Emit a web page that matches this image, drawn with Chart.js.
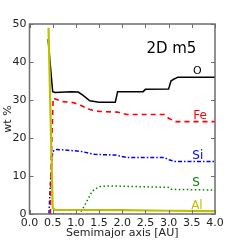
<!DOCTYPE html>
<html>
<head>
<meta charset="utf-8">
<script src="https://cdn.jsdelivr.net/npm/chart.js@4/dist/chart.umd.min.js"></script>
<style>
  html, body { margin: 0; padding: 0; background: #fff; }
  #wrap { width: 240px; height: 240px; }
</style>
</head>
<body>
<div id="wrap"><canvas id="myChart" width="240" height="240"></canvas></div>
<script>
// abundances vs semimajor axis
const oX = [0.40, 0.50, 0.55, 0.9, 1.05, 1.15, 1.3, 1.5, 1.85, 1.9, 2.45, 2.5, 3.0, 3.05, 3.1, 3.2, 4.0];
const oY = [46.0, 32.2, 32.0, 32.2, 32.1, 31.3, 29.8, 29.4, 29.4, 32.2, 32.2, 32.8, 32.9, 35.0, 35.4, 36.0, 36.0];

const feX = [0.45, 0.47, 0.51, 0.7, 0.95, 1.1, 1.3, 1.5, 1.9, 2.1, 2.9, 3.0, 3.15, 4.0];
const feY = [0, 15, 30.5, 29.6, 29.3, 28.6, 27.5, 27.0, 26.8, 26.2, 26.2, 25.2, 24.3, 24.3];

const siX = [0.42, 0.45, 0.5, 0.58, 1.1, 1.4, 1.85, 2.1, 2.9, 3.0, 3.15, 4.0];
const siY = [0, 8, 16.5, 17.0, 16.5, 15.7, 15.5, 14.9, 14.9, 14.3, 13.8, 13.8];

const sX = [0.45, 1.08, 1.2, 1.35, 1.5, 1.7, 3.0, 3.05, 4.0];
const sY = [0, 0, 2.5, 6.0, 7.2, 7.4, 7.0, 6.5, 6.3];

const alX = [0.41, 0.50, 0.55, 1.0, 2.0, 3.0, 4.0];
const alY = [49, 1.6, 1.1, 1.05, 1.0, 0.85, 0.75];

const xTicks = [0, 0.5, 1, 1.5, 2, 2.5, 3, 3.5, 4];
const yTicks = [0, 10, 20, 30, 40, 50];

// text labels next to the curves (data coords)
const labels = [
  { text: "2D m5", x: 3.06, y: 43.5, color: "#000", size: 15 },
  { text: "O", x: 3.62, y: 37.6, color: "#000", size: 11 },
  { text: "Fe", x: 3.68, y: 25.8, color: "#ff0000", size: 12 },
  { text: "Si", x: 3.63, y: 15.4, color: "#0000ff", size: 12 },
  { text: "S", x: 3.59, y: 8.1, color: "#008000", size: 12 },
  { text: "Al", x: 3.61, y: 2.2, color: "#bfbf00", size: 12 },
];

function pts(xs, ys) {
  return xs.map((x, i) => ({ x: x, y: ys[i] }));
}

const font = "'DejaVu Sans', sans-serif";
const axisColor = "#6e6e6e";

// inward ticks on all four sides + curve labels
const decor = {
  id: "decor",
  afterDraw(chart) {
    const c = chart.ctx;
    const a = chart.chartArea;
    const xs = chart.scales.x;
    const ys = chart.scales.y;
    c.save();
    c.strokeStyle = axisColor;
    c.lineWidth = 1;
    xTicks.forEach((v) => {
      const px = Math.round(xs.getPixelForValue(v)) + 0.5;
      c.beginPath();
      c.moveTo(px, a.bottom); c.lineTo(px, a.bottom - 4);
      c.moveTo(px, a.top); c.lineTo(px, a.top + 4);
      c.stroke();
    });
    yTicks.forEach((v) => {
      const py = Math.round(ys.getPixelForValue(v)) + 0.5;
      c.beginPath();
      c.moveTo(a.left, py); c.lineTo(a.left + 4, py);
      c.moveTo(a.right, py); c.lineTo(a.right - 4, py);
      c.stroke();
    });
    c.strokeStyle = axisColor;
    c.lineWidth = 1.5;
    c.strokeRect(a.left, a.top, a.right - a.left, a.bottom - a.top);
    c.textAlign = "center";
    c.textBaseline = "middle";
    labels.forEach((l) => {
      c.fillStyle = l.color;
      c.font = l.size + "px " + font;
      c.fillText(l.text, xs.getPixelForValue(l.x), ys.getPixelForValue(l.y));
    });
    c.restore();
  },
};

const ctx = document.getElementById("myChart").getContext("2d");

new Chart(ctx, {
  type: "scatter",
  data: {
    datasets: [
      {
        label: "Al",
        data: pts(alX, alY),
        showLine: true,
        borderColor: "#bfbf00",
        borderWidth: 2.2,
        pointRadius: 0,
        order: 0,
      },
      {
        label: "O",
        data: pts(oX, oY),
        showLine: true,
        borderColor: "#000",
        borderWidth: 1.5,
        pointRadius: 0,
        order: 1,
      },
      {
        label: "Fe",
        data: pts(feX, feY),
        showLine: true,
        borderColor: "#ff0000",
        borderWidth: 1.6,
        borderDash: [5, 4],
        pointRadius: 0,
        order: 2,
      },
      {
        label: "Si",
        data: pts(siX, siY),
        showLine: true,
        borderColor: "#0000ff",
        borderWidth: 1.5,
        borderDash: [4, 2, 1.5, 2],
        pointRadius: 0,
        order: 3,
      },
      {
        label: "S",
        data: pts(sX, sY),
        showLine: true,
        borderColor: "#008000",
        borderWidth: 1.5,
        borderDash: [1.5, 2.5],
        pointRadius: 0,
        order: 4,
      },
    ],
  },
  options: {
    responsive: false,
    animation: false,
    layout: { padding: { top: 24, right: 25, left: 0, bottom: 0 } },
    plugins: {
      legend: { display: false },
      tooltip: { enabled: false },
    },
    scales: {
      x: {
        type: "linear",
        min: 0,
        max: 4,
        afterBuildTicks: (s) => { s.ticks = xTicks.map((v) => ({ value: v })); },
        afterFit: (s) => { s.height = 26; },
        grid: { display: false, drawTicks: false },
        border: { display: false },
        ticks: {
          color: "#222",
          padding: 3,
          maxRotation: 0,
          font: { family: font, size: 11 },
          callback: (v) => v.toFixed(1),
        },
        title: {
          display: true,
          text: "Semimajor axis [AU]",
          color: "#222",
          padding: 0,
          font: { family: font, size: 11 },
        },
      },
      y: {
        type: "linear",
        min: 0,
        max: 50,
        afterBuildTicks: (s) => { s.ticks = yTicks.map((v) => ({ value: v })); },
        afterFit: (s) => { s.width = 29.5; },
        grid: { display: false, drawTicks: false },
        border: { display: false },
        ticks: {
          color: "#222",
          padding: 3,
          font: { family: font, size: 11 },
        },
        title: {
          display: true,
          text: "wt %",
          color: "#222",
          padding: { top: 2, bottom: 0 },
          font: { family: font, size: 11 },
        },
      },
    },
  },
  plugins: [decor],
});
</script>
</body>
</html>
